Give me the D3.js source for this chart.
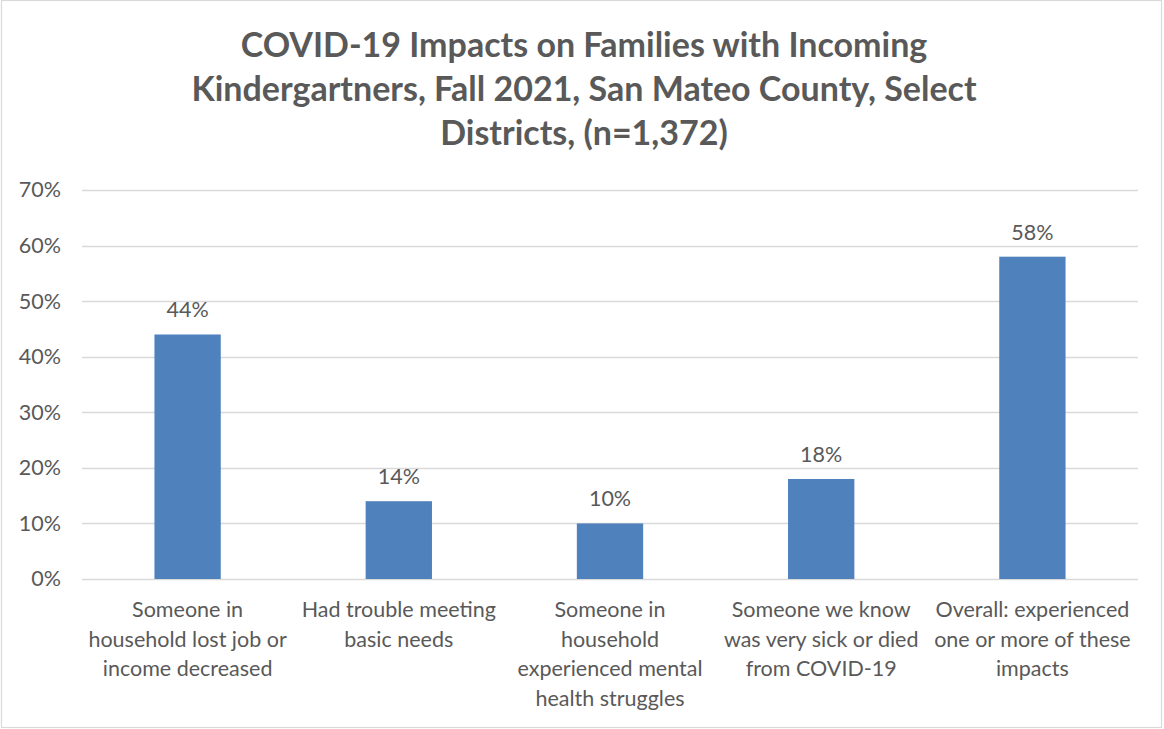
<!DOCTYPE html>
<html>
<head>
<meta charset="utf-8">
<script src="https://cdn.jsdelivr.net/npm/d3@7"></script>
<style>
  html, body { margin: 0; padding: 0; background: #fff; }
  svg { display: block; }
  text { font-family: Lato, "Open Sans", sans-serif; fill: #595959; }
</style>
</head>
<body>
<svg id="chart" width="1164" height="729"></svg>
<script>
// Survey results: share of families reporting each COVID-19 impact
const titleLines = [
  "COVID-19 Impacts on Families with Incoming",
  "Kindergartners, Fall 2021, San Mateo County, Select",
  "Districts, (n=1,372)"
];
const categories = [
  ["Someone in", "household lost job or", "income decreased"],
  ["Had trouble meeting", "basic needs"],
  ["Someone in", "household", "experienced mental", "health struggles"],
  ["Someone we know", "was very sick or died", "from COVID-19"],
  ["Overall: experienced", "one or more of these", "impacts"]
];
const values = [0.44, 0.14, 0.10, 0.18, 0.58];
const yTicks = [0, 0.1, 0.2, 0.3, 0.4, 0.5, 0.6, 0.7];

const svg = d3.select("#chart");
const W = 1164, H = 729;
const plot = { left: 82, right: 1138, top: 190, bottom: 579 };

// outer chart border
svg.append("rect")
  .attr("x", 1.5).attr("y", 0.5)
  .attr("width", W - 4).attr("height", H - 2)
  .attr("fill", "none").attr("stroke", "#d9d9d9").attr("stroke-width", 1.2);

// title
svg.append("g").selectAll("text")
  .data(titleLines)
  .join("text")
  .attr("x", 584)
  .attr("y", (d, i) => 57 + i * 44)
  .attr("text-anchor", "middle")
  .style("font-size", "34px")
  .style("font-weight", "bold")
  .text(d => d);

const x = d3.scaleBand()
  .domain(d3.range(categories.length))
  .range([plot.left, plot.right])
  .padding(0);

const y = d3.scaleLinear()
  .domain([0, 0.7])
  .range([plot.bottom, plot.top]);

// gridlines
svg.append("g").selectAll("line")
  .data(yTicks)
  .join("line")
  .attr("x1", plot.left).attr("x2", plot.right)
  .attr("y1", d => Math.round(y(d)) + 0.5)
  .attr("y2", d => Math.round(y(d)) + 0.5)
  .attr("stroke", "#d9d9d9")
  .attr("stroke-width", 1.3);

// y-axis labels
const yAxis = d3.axisLeft(y)
  .tickValues(yTicks)
  .tickFormat(d3.format(".0%"))
  .tickSize(0)
  .tickPadding(0);
const yg = svg.append("g")
  .attr("transform", `translate(${plot.left - 21},0)`)
  .call(yAxis);
yg.select(".domain").remove();
yg.selectAll("text")
  .style("font-size", "21.5px")
  .attr("fill", "#595959")
  .attr("font-family", "Lato, sans-serif");

// bars
const barW = x.bandwidth() * 0.314;
svg.append("g").selectAll("rect")
  .data(values)
  .join("rect")
  .attr("x", (d, i) => x(i) + (x.bandwidth() - barW) / 2)
  .attr("y", d => y(d))
  .attr("width", barW)
  .attr("height", d => y(0) - y(d))
  .attr("fill", "#4f81bd");

// value labels
svg.append("g").selectAll("text")
  .data(values)
  .join("text")
  .attr("x", (d, i) => x(i) + x.bandwidth() / 2)
  .attr("y", d => y(d) - 17)
  .attr("text-anchor", "middle")
  .style("font-size", "21.5px")
  .text(d => d3.format(".0%")(d));

// category labels
const cg = svg.append("g").selectAll("text")
  .data(categories)
  .join("text")
  .attr("text-anchor", "middle")
  .style("font-size", "21.5px");
cg.selectAll("tspan")
  .data((d, i) => d.map(line => ({ line, i })))
  .join("tspan")
  .attr("x", d => x(d.i) + x.bandwidth() / 2)
  .attr("y", (d, j) => 617 + j * 29.5)
  .text(d => d.line);
</script>
</body>
</html>
